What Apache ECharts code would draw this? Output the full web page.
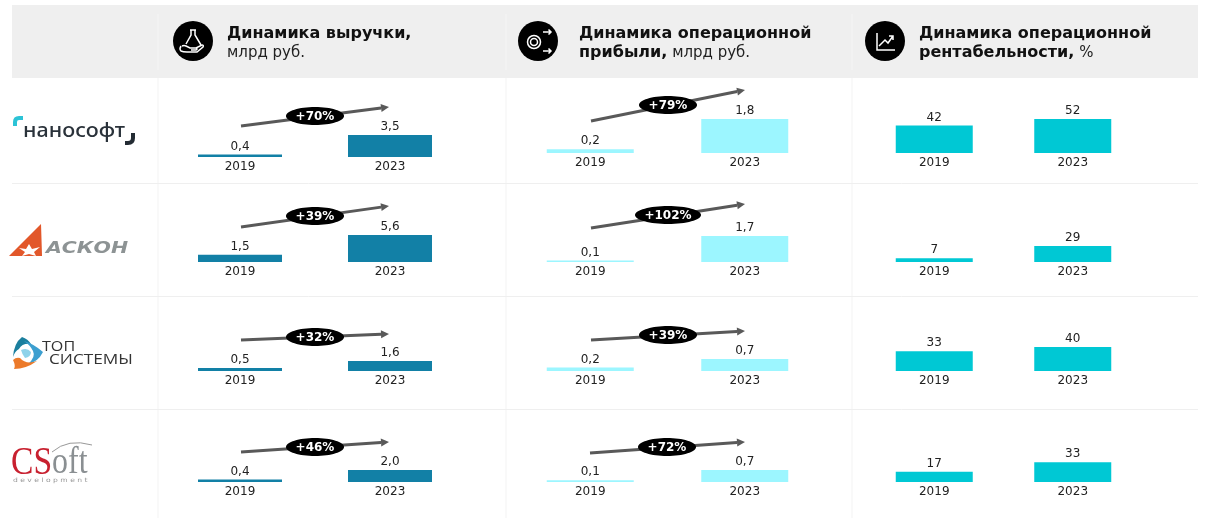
<!DOCTYPE html>
<html><head><meta charset="utf-8">
<style>html,body{margin:0;padding:0;background:#fff}#c{width:1208px;height:525px}</style>
<script src="https://cdn.jsdelivr.net/npm/echarts@6/dist/echarts.min.js"></script>
</head><body><div id="c"></div>
<script>
// ---- data ----
const categories = ['2019', '2023'];
const revenue = [[0.4, 3.5], [1.5, 5.6], [0.5, 1.6], [0.4, 2.0]];
const profit  = [[0.2, 1.8], [0.1, 1.7], [0.2, 0.7], [0.1, 0.7]];
const margin  = [[42, 52], [7, 29], [33, 40], [17, 33]];
const revenueGrowth = ['+70%', '+39%', '+32%', '+46%'];
const profitGrowth  = ['+79%', '+102%', '+39%', '+72%'];

// ---- layout ----
const GH = 60;
const rowBase = [[157, 153, 153], [262, 262, 262], [371, 371, 371], [482, 482, 482]];
const colX = [[165, 300, 84], [513, 309, 87], [865, 277, 77]];
const colColor = ['#1280a6', '#9cf6ff', '#00c8d4'];
const pxPerUnit = [[6.3, 18.9, 0.654], [4.8, 15.3, 0.55], [6.2, 17, 0.6], [6, 17, 0.6]];
const revArrow = [[241,126,389,107,315,116],[241,227,389,206,315,216],[241,340,389,334,315,337],[241,452,389,442,315,447]];
const profArrow = [[591,121,745,90,668,105],[591,228,745,204,668,215],[591,340,745,331,668,335],[590,453,745,442,667,447]];

const tables = [revenue, profit, margin];
const fmt = [v => v.toFixed(1).replace('.', ','), v => v.toFixed(1).replace('.', ','), v => String(v)];
const FONT = '"DejaVu Sans", Verdana, sans-serif';
const grids = [], xAxes = [], yAxes = [], series = [];
let idx = 0;
for (let r = 0; r < 4; r++) for (let c = 0; c < 3; c++) {
  grids.push({left: colX[c][0], width: colX[c][1], top: rowBase[r][c] - GH, height: GH});
  xAxes.push({type: 'category', gridIndex: idx, data: categories, axisLine: {show: false}, axisTick: {show: false},
    axisLabel: {color: '#222', fontFamily: FONT, fontSize: 12, margin: 4}});
  yAxes.push({type: 'value', gridIndex: idx, min: 0, max: GH / pxPerUnit[r][c], show: false, splitLine: {show: false}});
  series.push({type: 'bar', xAxisIndex: idx, yAxisIndex: idx, data: tables[c][r], barWidth: colX[c][2], silent: true,
    itemStyle: {color: colColor[c]},
    label: {show: true, position: 'top', distance: 2, color: '#222', fontFamily: FONT, fontSize: 12, formatter: p => fmt[c](p.value)}});
  idx++;
}

// ---- furniture ----
const g = [];
let shapeN = 0;
function svgPath(d, style, extra) {
  const name = 'svgp' + (shapeN++);
  echarts.graphic.registerShape(name, echarts.graphic.extendPath(d, {}));
  g.push(Object.assign({type: name, style}, extra || {}));
}
g.push({type: 'rect', shape: {x: 12, y: 5, width: 1186, height: 73}, style: {fill: '#efefef'}, silent: true});
[158, 506, 852].forEach(x => {
  g.push({type: 'line', shape: {x1: x, y1: 14, x2: x, y2: 70}, style: {stroke: '#f5f5f5', lineWidth: 1}});
  g.push({type: 'line', shape: {x1: x, y1: 78, x2: x, y2: 518}, style: {stroke: '#f3f3f3', lineWidth: 1}});
});
[183.5, 296.5, 409.5].forEach(y => g.push({type: 'line', shape: {x1: 12, y1: y, x2: 1198, y2: y}, style: {stroke: '#efefef', lineWidth: 1}}));

function icon(cx, paths) {
  g.push({type: 'circle', shape: {cx, cy: 41, r: 20}, style: {fill: '#000'}});
  paths.forEach(p => svgPath(p, {fill: 'none', stroke: '#fff', lineWidth: 1.5}));
}
icon(193, ['M190 30 h6 M191 30 v5 l-5 9 M195 30 v5 l6 10', 'M182 46 q2 -1 4 0 l4 2 h6 q2 1 0 2 h-5 M196 48 l6 -3 q2 0 1 2 l-6 5 h-10 q-4 0 -6 -1 q-2 -2 0 -5']);
icon(538, ['M540.5 42 a6.500 6.500 0 1 1 -13 0 a6.500 6.500 0 1 1 13 0', 'M537.500 42 a3.500 3.500 0 1 1 -7 0 a3.500 3.500 0 1 1 7 0', 'M543 32 h8 m-2.500 -2.500 l2.500 2.500 l-2.500 2.500', 'M543 51 h8 m-2.500 -2.500 l2.500 2.500 l-2.500 2.500']);
icon(885, ['M877 33 v17 h18', 'M879 46 l6 -6 l3 3 l5 -7 m-4 0 h4 v4']);

function headText(x, lines) {
  g.push({type: 'text', x, y: 34, style: {text: lines[0], font: 'bold 16px ' + FONT, fill: '#111', verticalAlign: 'middle'}});
  g.push({type: 'text', x, y: 53, style: {text: lines[1], font: '15px ' + FONT, fill: '#222', verticalAlign: 'middle',
    rich: {b: {font: 'bold 16px ' + FONT, fill: '#111'}, n: {font: '15px ' + FONT, fill: '#222'}}}});
}
headText(227, ['Динамика выручки,', '{n|млрд руб.}']);
headText(579, ['Динамика операционной', '{b|прибыли,} {n|млрд руб.}']);
headText(919, ['Динамика операционной', '{b|рентабельности,} {n|%}']);

function arrows(list, labels) {
  list.forEach((a, i) => {
    const [x1, y1, x2, y2, bx, by] = a;
    const ang = Math.atan2(y2 - y1, x2 - x1), L = 8, W = 4;
    const ex = x2 - L * Math.cos(ang), ey = y2 - L * Math.sin(ang);
    g.push({type: 'line', shape: {x1, y1, x2: ex, y2: ey}, style: {stroke: '#595959', lineWidth: 3}, z: 5});
    g.push({type: 'polygon', shape: {points: [[x2, y2], [ex - W * Math.sin(ang), ey + W * Math.cos(ang)], [ex + W * Math.sin(ang), ey - W * Math.cos(ang)]]}, style: {fill: '#595959'}, z: 5});
    const rx = labels[i].length > 4 ? 33 : 29;
    g.push({type: 'ellipse', shape: {cx: bx, cy: by, rx, ry: 9}, style: {fill: '#000'}, z: 6});
    g.push({type: 'text', x: bx, y: by + 1, style: {text: labels[i], font: 'bold 12px ' + FONT, fill: '#fff', align: 'center', verticalAlign: 'middle'}, z: 7});
  });
}
arrows(revArrow, revenueGrowth);
arrows(profArrow, profitGrowth);

// ---- company logos ----
// Nanosoft
svgPath('M15 126 v-4 q0 -4 4 -4 h4', {fill: 'none', stroke: '#2cc3d6', lineWidth: 4});
svgPath('M133 133 v5 q0 5 -5 5 h-3', {fill: 'none', stroke: '#232b33', lineWidth: 4});
g.push({type: 'text', x: 23, y: 131, scaleX: 1.05, style: {text: 'нанософт', font: '500 20.500px "Noto Sans", sans-serif', fill: '#2a323a', verticalAlign: 'middle'}});
// Ascon
g.push({type: 'polygon', shape: {points: [[9, 256], [41, 224], [42, 256]]}, style: {fill: '#e2572a'}});
g.push({type: 'polygon', shape: {points: [[19, 248], [26, 249], [29, 244], [32, 249], [40, 247], [34, 252], [36, 256], [29, 254], [22, 256], [25, 252]]}, style: {fill: '#fff'}});
g.push({type: 'text', x: 46, y: 249, scaleX: 1.24, style: {text: 'АСКОН', font: 'italic bold 16.500px "DejaVu Sans", sans-serif', fill: '#8d9394', verticalAlign: 'middle'}});
// Top Systems
svgPath('M13 357 Q14 343 22 337 Q28 339 31 344 Q22 343 19 349 Q15 351 13 357z', {fill: '#1b7f9e'});
svgPath('M24 341 Q34 344 43 352 Q38 362 28 364 Q36 357 33 351 Q30 345 24 341z', {fill: '#3c9fd0'});
svgPath('M21 350 Q27 347 31 352 Q31 357 25 358 Q22 354 21 350z', {fill: '#8fd3ea'});
svgPath('M13 360 Q16 366 14 369 Q26 369 37 361 Q26 365 20 358 Q16 357 13 360z', {fill: '#ec7a2a'});
g.push({type: 'text', x: 42, y: 347, scaleX: 1.15, style: {text: 'ТОП', font: '14px "Open Sans", sans-serif', fill: '#333', verticalAlign: 'middle'}});
g.push({type: 'text', x: 49, y: 360, scaleX: 1.23, style: {text: 'СИСТЕМЫ', font: '14px "Open Sans", sans-serif', fill: '#333', verticalAlign: 'middle'}});
// CSoft
g.push({type: 'text', x: 11, y: 463, scaleX: 0.84, style: {text: '{a|CS}{b|oft}', verticalAlign: 'middle', rich: {a: {font: '40px "Liberation Serif", serif', fill: '#c8202f'}, b: {font: '38px "Liberation Serif", serif', fill: '#8a8f92'}}}});
svgPath('M52 452 q16 -14 40 -7', {fill: 'none', stroke: '#999', lineWidth: 1});
g.push({type: 'text', x: 13, y: 480, scaleX: 1.27, style: {text: 'd e v e l o p m e n t', font: '6px "DejaVu Sans", sans-serif', fill: '#999', verticalAlign: 'middle'}});

const chart = echarts.init(document.getElementById('c'), null, {renderer: 'canvas'});
chart.setOption({animation: false, backgroundColor: '#fff', grid: grids, xAxis: xAxes, yAxis: yAxes, series, graphic: g});
</script></body></html>
